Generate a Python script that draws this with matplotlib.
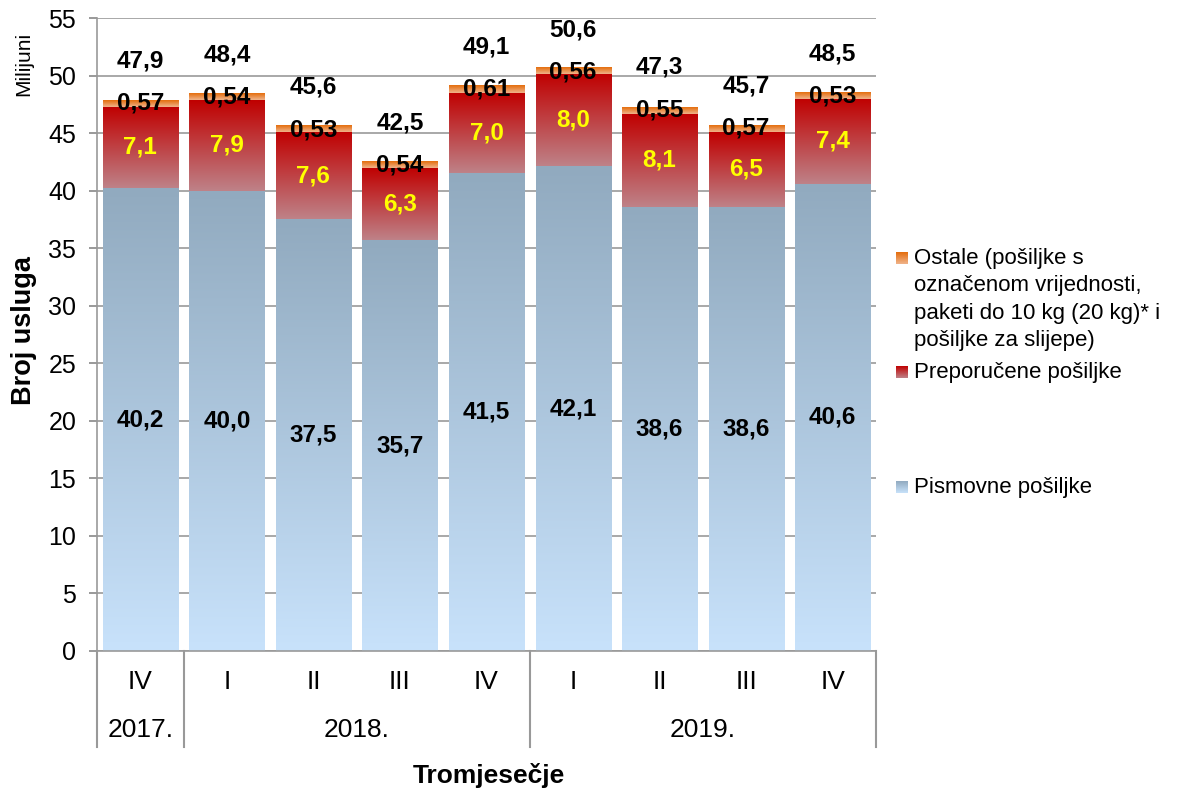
import numpy as np
import matplotlib.pyplot as plt
from matplotlib.colors import LinearSegmentedColormap
from matplotlib.lines import Line2D

plt.rcParams['font.family'] = ['Liberation Sans', 'DejaVu Sans']

quarters = ["IV", "I", "II", "III", "IV", "I", "II", "III", "IV"]
years = ["2017.", "2018.", "2019."]
year_counts = [1, 4, 4]
pismovne = [40.2, 40.0, 37.5, 35.7, 41.5, 42.1, 38.6, 38.6, 40.6]
preporucene = [7.1, 7.9, 7.6, 6.3, 7.0, 8.0, 8.1, 6.5, 7.4]
ostale = [0.57, 0.54, 0.53, 0.54, 0.61, 0.56, 0.55, 0.57, 0.53]
ukupno = [47.9, 48.4, 45.6, 42.5, 49.1, 50.6, 47.3, 45.7, 48.5]

leg_names = ["Ostale (pošiljke s\noznačenom vrijednosti,\npaketi do 10 kg (20 kg)* i\npošiljke za slijepe)",
             "Preporučene pošiljke", "Pismovne pošiljke"]

# gradient colormaps (bottom -> top)
cm_blue = LinearSegmentedColormap.from_list("b", ["#C8E2FB", "#91AABF"])
cm_red = LinearSegmentedColormap.from_list("r", ["#BE8288", "#C00000"])
cm_orange = LinearSegmentedColormap.from_list("o", ["#F0B48C", "#E46C0A"])
grad = np.linspace(0, 1, 256).reshape(-1, 1)

fig = plt.figure(figsize=(11.97, 7.96), dpi=100)
ax = fig.add_axes([97/1197, 1-651/796, (876-97)/1197, (651-18)/796])

n = len(quarters)
x = np.arange(n)
w = 0.867

def grad_bar(xc, y0, h, cmap):
    ax.imshow(grad, extent=[xc-w/2, xc+w/2, y0, y0+h], origin='lower',
              aspect='auto', cmap=cmap, interpolation='bicubic', zorder=2)

def fmt(v, d):
    return f"{v:.{d}f}".replace('.', ',')

for i in range(n):
    grad_bar(x[i], 0, pismovne[i], cm_blue)
    grad_bar(x[i], pismovne[i], preporucene[i], cm_red)
    grad_bar(x[i], pismovne[i] + preporucene[i], ostale[i], cm_orange)
    lab = dict(ha='center', va='center', fontsize=17.5, fontweight='bold', zorder=5)
    ax.text(x[i], pismovne[i]/2, fmt(pismovne[i], 1), color='black', **lab)
    ax.text(x[i], pismovne[i] + preporucene[i]/2, fmt(preporucene[i], 1), color='#FFFF00', **lab)
    ax.text(x[i], ukupno[i] - 0.3, fmt(ostale[i], 2), color='black', **lab)
    ax.text(x[i], ukupno[i] + 3.4, fmt(ukupno[i], 1), color='black', **lab)

ax.set_xlim(-0.5, n - 0.5)
ax.set_ylim(0, 55)
ax.set_yticks(np.arange(0, 56, 5))
ax.tick_params(axis='y', labelsize=18, colors='#888888', length=6, width=1.2,
               labelcolor='black', pad=9)
ax.set_xticks([])
ax.grid(axis='y', color='#999999', linewidth=1.2, zorder=0)
ax.set_axisbelow(True)
for s in ['top', 'right']:
    ax.spines[s].set_visible(False)
for s in ['left', 'bottom']:
    ax.spines[s].set_color('#999999')
    ax.spines[s].set_linewidth(1.2)

# multi-level x axis
trans = ax.get_xaxis_transform()
for i in range(n):
    ax.text(x[i], -0.049, quarters[i], transform=trans, ha='center', va='center', fontsize=19)
bounds = [-0.5]
for c in year_counts:
    bounds.append(bounds[-1] + c)
for b in bounds:
    ax.add_line(Line2D([b, b], [0, -0.152], transform=trans, color='#999999',
                       linewidth=1.5, clip_on=False))
for j, yr in enumerate(years):
    ax.text((bounds[j] + bounds[j+1]) / 2, -0.125, yr, transform=trans, ha='center',
            va='center', fontsize=19)

fig.text(489/1197, 1-776/796, "Tromjesečje", ha='center', va='center', fontsize=19,
         fontweight='bold')
fig.text(24/1197, 1-331/796, "Broj usluga", rotation=90, ha='center', va='center',
         fontsize=19.5, fontweight='bold')
fig.text(24/1197, 1-64/796, "Milijuni", rotation=90, ha='center', va='center', fontsize=15)

# legend
leg_y = [258, 372, 487]
leg_cm = [cm_orange, cm_red, cm_blue]
for name, yy, cm in zip(leg_names, leg_y, leg_cm):
    sq = fig.add_axes([896/1197, 1-(yy+6)/796, 12/1197, 12/796])
    sq.imshow(grad, origin='lower', aspect='auto', cmap=cm, interpolation='bicubic')
    sq.axis('off')
    fig.text(914/1197, 1-(yy-10)/796, name, ha='left', va='top', fontsize=16,
             linespacing=1.4)

plt.savefig("out.png", dpi=100)
